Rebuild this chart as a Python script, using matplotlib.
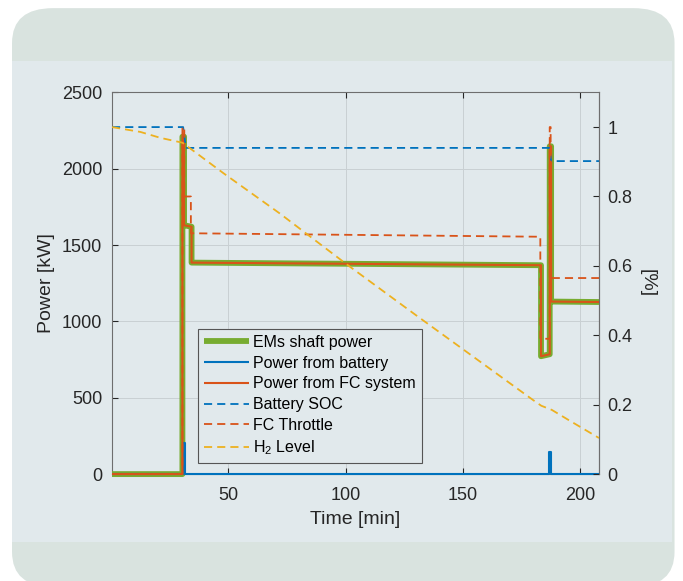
import numpy as np
import matplotlib
matplotlib.use('Agg')
import matplotlib.pyplot as plt
from matplotlib.patches import FancyBboxPatch, Rectangle

plt.rcParams['font.family'] = ['Liberation Sans', 'DejaVu Sans']
plt.rcParams['mathtext.fontset'] = 'custom'
plt.rcParams['mathtext.rm'] = 'Liberation Sans'
plt.rcParams['mathtext.it'] = 'Liberation Sans'

# power traces [kW] vs time [min]
t_power = [0.5, 30.5, 30.5, 31.2, 31.2, 34.4, 34.4, 183.3, 183.3, 187.0, 187.0, 187.6, 187.6, 208]
shaft_power = [0, 0, 2210, 2210, 1630, 1620, 1385, 1368, 772, 785, 2147, 2147, 1130, 1127]
fc_power = [0, 0, 2210, 2210, 1630, 1620, 1385, 1368, 772, 785, 2147, 2147, 1130, 1127]

t_batt = [0.5, 30.9, 30.9, 31.4, 31.4, 186.9, 186.9, 187.4, 187.4, 208]
batt_power = [0, 0, 205, 205, 0, 0, 146, 146, 0, 0]

# right axis states [-]
t_soc = [0.5, 30.8, 32.0, 186.9, 187.6, 208]
soc = [1.0, 1.0, 0.94, 0.94, 0.902, 0.902]

t_throttle = [0.5, 30.5, 30.5, 31.3, 31.3, 34.1, 34.1, 183.0, 183.0, 187.0, 187.0, 187.4, 187.4, 208]
throttle = [0, 0, 1.0, 1.0, 0.80, 0.80, 0.694, 0.684, 0.39, 0.39, 1.0, 1.0, 0.565, 0.565]

t_h2 = [0.5, 12.6, 21.1, 30.5, 48, 72, 101, 130, 160, 180, 183.4, 187.9, 195, 208]
h2_level = [1.0, 0.986, 0.969, 0.955, 0.867, 0.751, 0.602, 0.458, 0.311, 0.213, 0.197, 0.185, 0.156, 0.104]

panel = '#e1e9ec'
outer = '#d9e3df'
txt = '#262626'

fig = plt.figure(figsize=(6.83, 5.81), dpi=100)
fig.patch.set_facecolor('white')
fig.patches.append(FancyBboxPatch((0.0176, -0.01), 0.97, 0.996, boxstyle='round,pad=0,rounding_size=0.06',
                                  transform=fig.transFigure, facecolor=outer, edgecolor='none', zorder=-10))
fig.patches.append(Rectangle((0.0176, 0.067), 0.966, 0.828, transform=fig.transFigure,
                             facecolor=panel, edgecolor='none', zorder=-9))

ax = fig.add_axes([0.164, 0.184, 0.713, 0.657])
ax.set_facecolor(panel)
ax2 = ax.twinx()
ax2.patch.set_visible(False)
for side in ('left', 'top', 'bottom'):
    ax2.spines[side].set_visible(False)

h1, = ax.plot(t_power, shaft_power, color='#77ac30', lw=4.2, label='EMs shaft power',
              clip_on=False, zorder=3, solid_capstyle='butt')
h2, = ax.plot(t_batt, batt_power, color='#0072bd', lw=1.5, label='Power from battery',
              clip_on=False, zorder=3, solid_capstyle='butt')
h3, = ax.plot(t_power, fc_power, color='#d95319', lw=1.5, label='Power from FC system',
              clip_on=False, zorder=3, solid_capstyle='butt')

dash = (4.5, 2.8)
h4, = ax2.plot(t_soc, soc, color='#0072bd', lw=1.3, dashes=dash, label='Battery SOC')
h5, = ax2.plot(t_throttle, throttle, color='#d95319', lw=1.3, dashes=dash, label='FC Throttle')
h6, = ax2.plot(t_h2, h2_level, color='#edb120', lw=1.3, dashes=dash, label='H$_2$ Level')

ax.set_xlim(0.5, 208)
ax.set_ylim(0, 2500)
ax2.set_ylim(0, 1.1)
ax.set_xticks([50, 100, 150, 200])
ax.set_yticks([0, 500, 1000, 1500, 2000, 2500])
ax2.set_yticks([0, 0.2, 0.4, 0.6, 0.8, 1.0])
ax2.set_yticklabels(['0', '0.2', '0.4', '0.6', '0.8', '1'])

ax.grid(True, color='#c9d0d3', lw=0.7)
ax.set_axisbelow(True)
for a in (ax, ax2):
    for s in a.spines.values():
        s.set_color('#6e6e6e')
        s.set_linewidth(0.8)
ax.tick_params(direction='in', top=True, right=False, length=4, labelsize=13, colors=txt, width=0.8)
ax.tick_params(axis='x', pad=9)
ax.tick_params(axis='y', pad=7)
ax2.tick_params(direction='in', length=4, labelsize=13, colors=txt, width=0.8, pad=6)

ax.set_xlabel('Time [min]', fontsize=14, color=txt, labelpad=5)
ax.set_ylabel('Power [kW]', fontsize=14, color=txt, labelpad=5)
ax2.set_ylabel('[%]', fontsize=14, color=txt, rotation=-90, labelpad=17)

leg = ax2.legend(handles=[h1, h2, h3, h4, h5, h6], loc='lower left', bbox_to_anchor=(0.177, 0.029),
                 borderaxespad=0, fontsize=11.5, frameon=True, fancybox=False, framealpha=1,
                 facecolor=panel, edgecolor='#555555', handlelength=2.8, handletextpad=0.3,
                 labelspacing=0.36, borderpad=0.35)
leg.get_frame().set_linewidth(0.8)

fig.savefig('out.png', dpi=100, facecolor='white')
